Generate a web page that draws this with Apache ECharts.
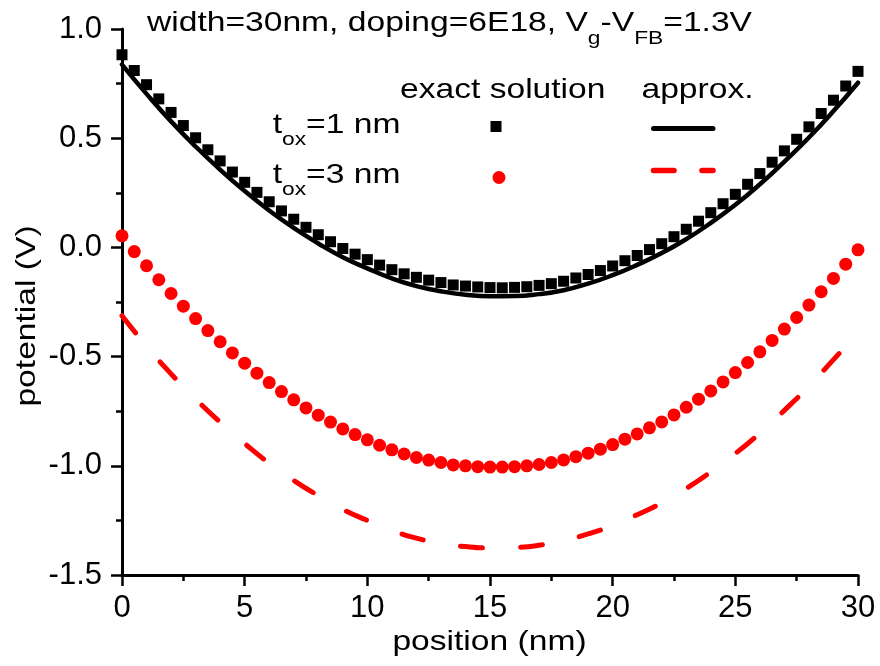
<!DOCTYPE html>
<html>
<head>
<meta charset="utf-8">
<script src="https://cdn.jsdelivr.net/npm/echarts@6/dist/echarts.min.js"></script>
<style>
html,body{margin:0;padding:0;background:#fff;}
#c{width:880px;height:666px;}
</style>
</head>
<body>
<div id="c"></div>
<script>
// ---- data ----
const xTickLabels = ['0', '5', '10', '15', '20', '25', '30'];
const yTickLabels = ['-1.5', '-1.0', '-0.5', '0.0', '0.5', '1.0'];

// exact solution positions (nm)
const xExact = [0,0.5,1,1.5,2,2.5,3,3.5,4,4.5,5,5.5,6,6.5,7,7.5,8,8.5,9,9.5,10,10.5,11,11.5,12,12.5,13,13.5,14,14.5,15,15.5,16,16.5,17,17.5,18,18.5,19,19.5,20,20.5,21,21.5,22,22.5,23,23.5,24,24.5,25,25.5,26,26.5,27,27.5,28,28.5,29,29.5,30];
// t_ox = 1 nm, exact (squares)
const exact1 = [0.882,0.810,0.745,0.680,0.618,0.558,0.502,0.447,0.396,0.345,0.298,0.252,0.209,0.167,0.129,0.092,0.058,0.026,-0.005,-0.031,-0.056,-0.081,-0.102,-0.121,-0.137,-0.150,-0.161,-0.172,-0.177,-0.181,-0.184,-0.185,-0.183,-0.180,-0.174,-0.166,-0.155,-0.140,-0.124,-0.106,-0.085,-0.061,-0.037,-0.010,0.017,0.049,0.083,0.120,0.159,0.200,0.243,0.289,0.338,0.390,0.442,0.495,0.552,0.613,0.674,0.739,0.806];
// t_ox = 3 nm, exact (circles)
const exact3 = [0.053,-0.019,-0.084,-0.148,-0.211,-0.269,-0.326,-0.381,-0.432,-0.483,-0.530,-0.576,-0.619,-0.660,-0.698,-0.735,-0.768,-0.800,-0.831,-0.857,-0.881,-0.906,-0.927,-0.946,-0.962,-0.974,-0.985,-0.996,-1.000,-1.004,-1.006,-1.006,-1.004,-1.000,-0.994,-0.985,-0.973,-0.958,-0.942,-0.924,-0.903,-0.878,-0.854,-0.826,-0.799,-0.767,-0.732,-0.695,-0.657,-0.616,-0.573,-0.527,-0.478,-0.426,-0.374,-0.321,-0.264,-0.203,-0.142,-0.077,-0.011];

// approximation positions (nm)
const xApprox = [0,1,2,3,4,5,6,7,8,9,10,11,12,13,14,15,16,17,18,19,20,21,22,23,24,25,26,27,28,29,30];
const approx1 = [0.837,0.703,0.577,0.462,0.356,0.258,0.169,0.089,0.018,-0.045,-0.096,-0.142,-0.177,-0.201,-0.217,-0.224,-0.223,-0.214,-0.196,-0.166,-0.127,-0.080,-0.026,0.038,0.112,0.195,0.289,0.393,0.503,0.624,0.754];
const approx3 = [-0.313,-0.452,-0.579,-0.694,-0.800,-0.898,-0.988,-1.067,-1.137,-1.200,-1.250,-1.296,-1.331,-1.355,-1.370,-1.376,-1.374,-1.364,-1.343,-1.312,-1.274,-1.224,-1.170,-1.104,-1.028,-0.944,-0.850,-0.746,-0.636,-0.514,-0.392];

// ---- helpers ----
const FONT = '"Liberation Sans", Arial, sans-serif';
const mctx = document.createElement('canvas').getContext('2d');
function tw(s, fs) { mctx.font = fs + 'px ' + FONT; return mctx.measureText(s).width; }
const SX = 1.2;          // horizontal stretch of the reference lettering
const MAIN = 28, SUB = 19;
function run(x0, baseY, parts, subDrop) {
  const els = [];
  let x = x0;
  parts.forEach(p => {
    const isSub = p[1] === 's';
    const fs = isSub ? SUB : MAIN;
    const by = baseY + (isSub ? subDrop : 0);
    els.push({
      type: 'text', x: x, y: by - 0.3465 * fs, scaleX: SX, z: 100,
      style: { text: p[0], fontSize: fs, fontFamily: FONT, fill: '#000', align: 'left', verticalAlign: 'middle' }
    });
    x += tw(p[0], fs) * SX;
  });
  return els;
}
function pair(arrX, arrY) { return arrX.map((x, i) => [x, arrY[i]]); }

const graphics = [].concat(
  run(147, 33, [['width=30nm, doping=6E18, V', 'm'], ['g', 's'], ['-V', 'm'], ['FB', 's'], ['=1.3V', 'm']], 12),
  run(400, 100, [['exact solution', 'm']], 0),
  run(641.5, 100, [['approx.', 'm']], 0),
  run(272.7, 135, [['t', 'm'], ['ox', 's'], ['=1 nm', 'm']], 11),
  run(272.7, 185, [['t', 'm'], ['ox', 's'], ['=3 nm', 'm']], 11),
  [
    { type: 'rect', shape: { x: 490.5, y: 121, width: 11, height: 11 }, style: { fill: '#000' }, z: 100 },
    { type: 'circle', shape: { cx: 499, cy: 177.5, r: 6.5 }, style: { fill: '#ff0000' }, z: 100 },
    { type: 'line', shape: { x1: 653.5, y1: 128.5, x2: 713, y2: 128.5 }, style: { stroke: '#000', lineWidth: 5, lineCap: 'round' }, z: 100 },
    { type: 'line', shape: { x1: 653.5, y1: 170.5, x2: 674, y2: 170.5 }, style: { stroke: '#ff0000', lineWidth: 5.5, lineCap: 'round' }, z: 100 },
    { type: 'line', shape: { x1: 702, y1: 170.5, x2: 713, y2: 170.5 }, style: { stroke: '#ff0000', lineWidth: 5.5, lineCap: 'round' }, z: 100 },
    { type: 'text', x: 489.5, y: 652 - 0.3465 * MAIN, scaleX: SX, z: 100,
      style: { text: 'position (nm)', fontSize: MAIN, fontFamily: FONT, fill: '#000', align: 'center', verticalAlign: 'middle' } },
    { type: 'text', x: 37 - 0.3465 * MAIN, y: 316, rotation: Math.PI / 2, scaleX: SX, z: 100,
      style: { text: 'potential (V)', fontSize: MAIN, fontFamily: FONT, fill: '#000', align: 'center', verticalAlign: 'middle' } }
  ]
);

const axisLineStyle = { color: '#000', width: 3 };
const chart = echarts.init(document.getElementById('c'), null, { renderer: 'canvas' });
chart.setOption({
  animation: false,
  backgroundColor: '#fff',
  grid: { left: 122, right: 22, top: 29, bottom: 91, containLabel: false },
  xAxis: {
    type: 'value', min: 0, max: 30, interval: 5,
    axisLine: { show: true, onZero: false, lineStyle: axisLineStyle },
    axisTick: { show: true, inside: false, length: 11, lineStyle: { color: '#000', width: 2.5 } },
    minorTick: { show: true, splitNumber: 2, length: 6, lineStyle: { color: '#000', width: 2.5 } },
    splitLine: { show: false },
    axisLabel: {
      margin: 18, fontSize: 31, fontFamily: FONT, color: '#000',
      formatter: v => xTickLabels[Math.round(v / 5)]
    }
  },
  yAxis: {
    type: 'value', min: -1.5, max: 1.0, interval: 0.5,
    axisLine: { show: true, onZero: false, lineStyle: axisLineStyle },
    axisTick: { show: true, inside: false, length: 11, lineStyle: { color: '#000', width: 2.5 } },
    minorTick: { show: true, splitNumber: 2, length: 6, lineStyle: { color: '#000', width: 2.5 } },
    splitLine: { show: false },
    axisLabel: {
      margin: 20, fontSize: 31, fontFamily: FONT, color: '#000',
      formatter: v => yTickLabels[Math.round((v + 1.5) / 0.5)]
    }
  },
  series: [
    {
      name: 't_ox=1 nm approx', type: 'line', data: pair(xApprox, approx1),
      smooth: true, showSymbol: false, symbol: 'none', clip: true,
      lineStyle: { color: '#000', width: 4.5, cap: 'round' }, z: 2
    },
    {
      name: 't_ox=3 nm approx', type: 'line', data: pair(xApprox, approx3),
      smooth: true, showSymbol: false, symbol: 'none', clip: true,
      lineStyle: { color: '#ff0000', width: 5, type: [22, 38], cap: 'round' }, z: 2
    },
    {
      name: 't_ox=1 nm exact', type: 'scatter', data: pair(xExact, exact1),
      symbol: 'rect', symbolSize: 11, itemStyle: { color: '#000', opacity: 1 }, z: 3
    },
    {
      name: 't_ox=3 nm exact', type: 'scatter', data: pair(xExact, exact3),
      symbol: 'circle', symbolSize: 13, itemStyle: { color: '#ff0000', opacity: 1 }, z: 3
    }
  ],
  graphic: { elements: graphics }
});
</script>
</body>
</html>
